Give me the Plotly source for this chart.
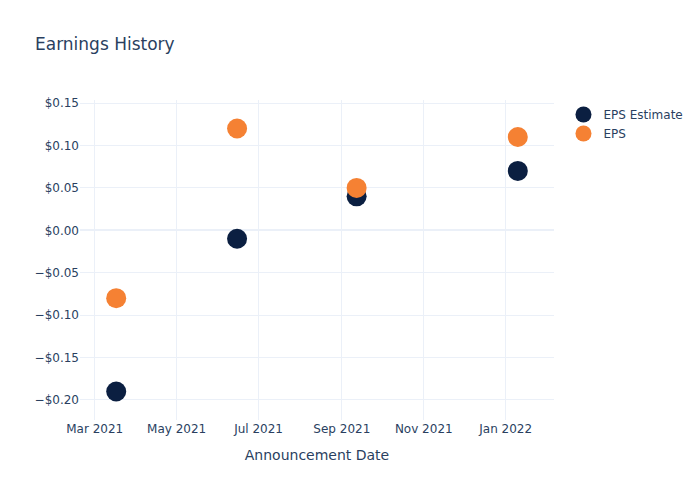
import plotly.graph_objects as go

dates = ["2021-03-17", "2021-06-15", "2021-09-12", "2022-01-10"]
eps_estimate = [-0.19, -0.01, 0.04, 0.07]
eps_actual = [-0.08, 0.12, 0.05, 0.11]

fig = go.Figure()
fig.add_trace(go.Scatter(x=dates, y=eps_estimate, mode="markers", name="EPS Estimate",
                         marker=dict(color="#0b1f41", size=20)))
fig.add_trace(go.Scatter(x=dates, y=eps_actual, mode="markers", name="EPS",
                         marker=dict(color="#f58133", size=20)))
fig.update_layout(
    template="plotly_white",
    font=dict(family="DejaVu Sans"),
    title=dict(text="Earnings History"),
    width=700, height=500,
    xaxis=dict(title=dict(text="Announcement Date")),
    yaxis=dict(tickformat="$.2f"),
)
fig.write_html("out.html")
